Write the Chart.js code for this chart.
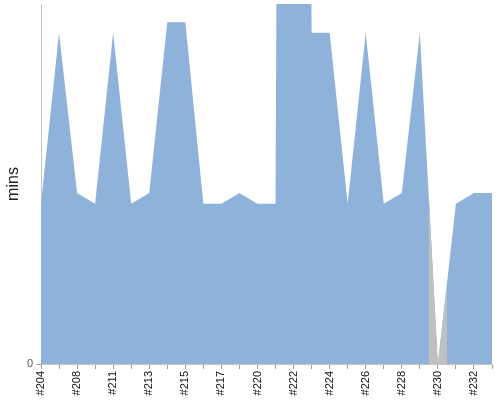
<!DOCTYPE html>
<html>
<head>
<meta charset="utf-8">
<script src="https://cdn.jsdelivr.net/npm/chart.js@4.4.1/dist/chart.umd.min.js"></script>
<style>
html,body{margin:0;padding:0;background:#fff;}
#wrap{width:500px;height:400px;}
</style>
</head>
<body>
<div id="wrap"><canvas id="c" width="500" height="400"></canvas></div>
<script>
// Build numbers (categories)
const builds = ['#204','#206','#208','#210','#211','#212','#213','#214','#215','#216','#217','#219','#220','#221','#222','#223','#224','#225','#226','#227','#228','#229','#230','#231','#232','#233'];
// Build duration in minutes (one value is far above the visible range)
const durations = [15,31,16,15,31,15,16,32,32,15,15,16,15,15,400,31,31,15,31,15,16,31,0,15,16,16];
// Build result per build
const results = ['ok','ok','ok','ok','ok','ok','ok','ok','ok','ok','ok','ok','ok','ok','ok','ok','ok','ok','ok','ok','ok','ok','aborted','ok','ok','ok'];
const yTicks = [0];
const yMax = 33.7;

const BLUE = '#8fb2da';
const GRAY = '#c0c0c0';

// clip the "aborted" colouring to each aborted build's band (midpoint to midpoint)
const bandPlugin = {
  id: 'bandClip',
  afterDatasetDraw(chart, args) {
    const ctx = chart.ctx;
    if (args.index === 1) { // blue drawn first; clip before gray is drawn
      const xs = chart.scales.x, a = chart.chartArea;
      ctx.save();
      ctx.beginPath();
      results.forEach((r, i) => {
        if (r !== 'aborted') return;
        const l = Math.max(a.left, xs.getPixelForValue(i - 0.5));
        const rr = Math.min(a.right, xs.getPixelForValue(i + 0.5));
        ctx.rect(l, a.top, rr - l, a.bottom - a.top);
      });
      ctx.clip();
    } else if (args.index === 0) {
      ctx.restore();
    }
  }
};

new Chart(document.getElementById('c'), {
  type: 'line',
  data: {
    labels: builds,
    datasets: [
      { label: 'aborted', data: durations, backgroundColor: GRAY, borderColor: 'transparent', borderWidth: 0, pointRadius: 0, fill: 'origin', tension: 0, order: 0 },
      { label: 'duration', data: durations, backgroundColor: BLUE, borderColor: 'transparent', borderWidth: 0, pointRadius: 0, fill: 'origin', tension: 0, order: 1 }
    ]
  },
  options: {
    responsive: false,
    animation: false,
    devicePixelRatio: 1,
    layout: { padding: { top: 4, right: 8, left: 0, bottom: 0 } },
    plugins: { legend: { display: false }, tooltip: { enabled: false } },
    scales: {
      x: {
        type: 'category',
        offset: false,
        border: { display: true, color: '#c4c4c4', width: 1 },
        grid: { display: true, drawOnChartArea: false, drawTicks: true, tickLength: 5, color: '#9a9a9a' },
        ticks: {
          autoSkip: false, minRotation: 90, maxRotation: 90, padding: 2,
          color: '#111', font: { family: 'Liberation Sans', size: 11 },
          callback: function(v, i) { return i % 2 === 0 ? builds[i] : ''; }
        },
        afterFit(s) { s.height = 36; s.paddingLeft = 0; s.paddingRight = 0; }
      },
      y: {
        min: 0, max: yMax,
        border: { display: true, color: '#c4c4c4', width: 1 },
        grid: { display: true, drawOnChartArea: false, drawTicks: true, tickLength: 4, color: '#9a9a9a' },
        afterBuildTicks(s) { s.ticks = yTicks.map(v => ({ value: v })); },
        ticks: { color: '#555', padding: 4, font: { family: 'Liberation Sans', size: 11 } },
        title: { display: true, text: 'mins', color: '#222', font: { family: 'Liberation Sans', size: 16 }, padding: { top: 4, bottom: 0 } },
        afterFit(s) { s.width = 41; s.paddingTop = 0; s.paddingBottom = 0; }
      }
    }
  },
  plugins: [bandPlugin]
});
</script>
</body>
</html>
